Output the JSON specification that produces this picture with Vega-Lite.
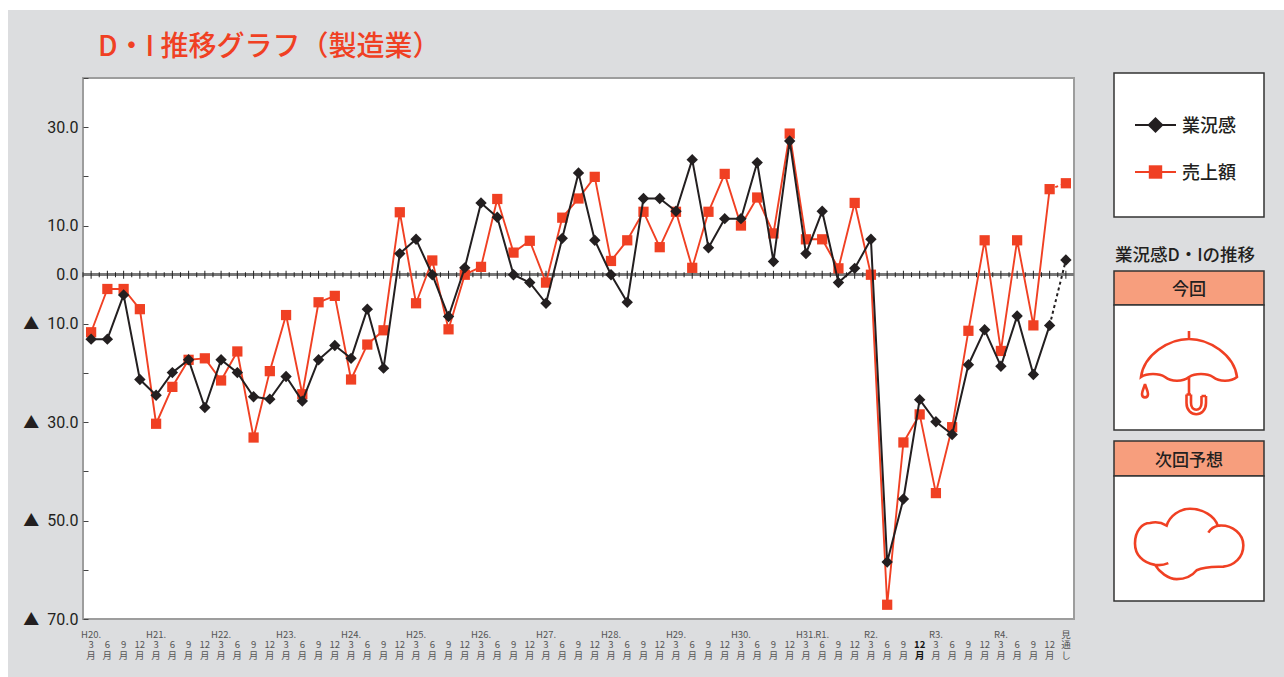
{"$schema":"https://vega.github.io/schema/vega-lite/v6.json","background":"white","padding":{"left":8,"top":10,"right":0,"bottom":0},"spacing":1031,"bounds":"flush","config":{"font":"Noto Sans CJK JP"},
"datasets":{"di":[
{"i":0,"s":"業況感","v":-13.1},{"i":1,"s":"業況感","v":-13.1},{"i":2,"s":"業況感","v":-4.1},{"i":3,"s":"業況感","v":-21.3},{"i":4,"s":"業況感","v":-24.5},{"i":5,"s":"業況感","v":-19.9},{"i":6,"s":"業況感","v":-17.3},{"i":7,"s":"業況感","v":-27.0},{"i":8,"s":"業況感","v":-17.3},{"i":9,"s":"業況感","v":-19.9},{"i":10,"s":"業況感","v":-24.8},{"i":11,"s":"業況感","v":-25.3},{"i":12,"s":"業況感","v":-20.7},{"i":13,"s":"業況感","v":-25.7},{"i":14,"s":"業況感","v":-17.3},{"i":15,"s":"業況感","v":-14.4},{"i":16,"s":"業況感","v":-17.0},{"i":17,"s":"業況感","v":-7.0},{"i":18,"s":"業況感","v":-19.0},{"i":19,"s":"業況感","v":4.3},{"i":20,"s":"業況感","v":7.2},{"i":21,"s":"業況感","v":0},{"i":22,"s":"業況感","v":-8.5},{"i":23,"s":"業況感","v":1.4},{"i":24,"s":"業況感","v":14.6},{"i":25,"s":"業況感","v":11.7},{"i":26,"s":"業況感","v":0},{"i":27,"s":"業況感","v":-1.6},{"i":28,"s":"業況感","v":-5.8},{"i":29,"s":"業況感","v":7.4},{"i":30,"s":"業況感","v":20.7},{"i":31,"s":"業況感","v":7.0},{"i":32,"s":"業況感","v":0},{"i":33,"s":"業況感","v":-5.6},{"i":34,"s":"業況感","v":15.5},{"i":35,"s":"業況感","v":15.5},{"i":36,"s":"業況感","v":12.9},{"i":37,"s":"業況感","v":23.4},{"i":38,"s":"業況感","v":5.5},{"i":39,"s":"業況感","v":11.4},{"i":40,"s":"業況感","v":11.4},{"i":41,"s":"業況感","v":22.8},{"i":42,"s":"業況感","v":2.7},{"i":43,"s":"業況感","v":27.2},{"i":44,"s":"業況感","v":4.3},{"i":45,"s":"業況感","v":12.9},{"i":46,"s":"業況感","v":-1.6},{"i":47,"s":"業況感","v":1.3},{"i":48,"s":"業況感","v":7.2},{"i":49,"s":"業況感","v":-58.4},{"i":50,"s":"業況感","v":-45.6},{"i":51,"s":"業況感","v":-25.4},{"i":52,"s":"業況感","v":-29.9},{"i":53,"s":"業況感","v":-32.5},{"i":54,"s":"業況感","v":-18.3},{"i":55,"s":"業況感","v":-11.2},{"i":56,"s":"業況感","v":-18.6},{"i":57,"s":"業況感","v":-8.4},{"i":58,"s":"業況感","v":-20.3},{"i":59,"s":"業況感","v":-10.3},{"i":60,"s":"業況感","v":3.0},
{"i":0,"s":"売上額","v":-11.7},{"i":1,"s":"売上額","v":-2.9},{"i":2,"s":"売上額","v":-2.9},{"i":3,"s":"売上額","v":-7.0},{"i":4,"s":"売上額","v":-30.3},{"i":5,"s":"売上額","v":-22.8},{"i":6,"s":"売上額","v":-17.3},{"i":7,"s":"売上額","v":-17.0},{"i":8,"s":"売上額","v":-21.5},{"i":9,"s":"売上額","v":-15.6},{"i":10,"s":"売上額","v":-33.1},{"i":11,"s":"売上額","v":-19.6},{"i":12,"s":"売上額","v":-8.2},{"i":13,"s":"売上額","v":-24.3},{"i":14,"s":"売上額","v":-5.6},{"i":15,"s":"売上額","v":-4.3},{"i":16,"s":"売上額","v":-21.3},{"i":17,"s":"売上額","v":-14.2},{"i":18,"s":"売上額","v":-11.3},{"i":19,"s":"売上額","v":12.7},{"i":20,"s":"売上額","v":-5.8},{"i":21,"s":"売上額","v":2.9},{"i":22,"s":"売上額","v":-11.1},{"i":23,"s":"売上額","v":0},{"i":24,"s":"売上額","v":1.6},{"i":25,"s":"売上額","v":15.4},{"i":26,"s":"売上額","v":4.5},{"i":27,"s":"売上額","v":6.9},{"i":28,"s":"売上額","v":-1.6},{"i":29,"s":"売上額","v":11.6},{"i":30,"s":"売上額","v":15.5},{"i":31,"s":"売上額","v":19.9},{"i":32,"s":"売上額","v":2.8},{"i":33,"s":"売上額","v":7.0},{"i":34,"s":"売上額","v":12.8},{"i":35,"s":"売上額","v":5.6},{"i":36,"s":"売上額","v":12.8},{"i":37,"s":"売上額","v":1.4},{"i":38,"s":"売上額","v":12.8},{"i":39,"s":"売上額","v":20.5},{"i":40,"s":"売上額","v":10.0},{"i":41,"s":"売上額","v":15.7},{"i":42,"s":"売上額","v":8.4},{"i":43,"s":"売上額","v":28.7},{"i":44,"s":"売上額","v":7.2},{"i":45,"s":"売上額","v":7.2},{"i":46,"s":"売上額","v":1.3},{"i":47,"s":"売上額","v":14.6},{"i":48,"s":"売上額","v":0},{"i":49,"s":"売上額","v":-67.1},{"i":50,"s":"売上額","v":-34.1},{"i":51,"s":"売上額","v":-28.4},{"i":52,"s":"売上額","v":-44.4},{"i":53,"s":"売上額","v":-31.0},{"i":54,"s":"売上額","v":-11.4},{"i":55,"s":"売上額","v":7.0},{"i":56,"s":"売上額","v":-15.5},{"i":57,"s":"売上額","v":7.0},{"i":58,"s":"売上額","v":-10.3},{"i":59,"s":"売上額","v":17.4},{"i":60,"s":"売上額","v":18.6}
],"key":[{"s":"業況感","p":-1},{"s":"業況感","p":0},{"s":"業況感","p":1},{"s":"売上額","p":-1},{"s":"売上額","p":0},{"s":"売上額","p":1}]},
"hconcat":[
{"vconcat":[
{"width":991,"height":5,"view":{"stroke":null},"data":{"values":[{"panel":"sheet"}]},
"mark":{"type":"rect","fill":"#dcdddf","clip":false},
"encoding":{"x":{"value":-75},"x2":{"value":1201},"y":{"value":-63},"y2":{"value":604}}},
{"width":991,"height":541,"view":{"fill":"white","stroke":"#9d9d9d","strokeWidth":2},"data":{"name":"di"},
"title":{"text":"D・I 推移グラフ\uFF08製造業\uFF09","anchor":"start","frame":"group","dx":15,"offset":16,"color":"#f04023","font":"Noto Sans CJK JP","fontSize":28,"fontWeight":500},
"encoding":{
"x":{"field":"i","type":"ordinal","title":null,"scale":{"type":"band","paddingInner":0,"paddingOuter":0},
"axis":{"domain":false,"ticks":false,"grid":false,"labelAngle":0,"labelAlign":"center","labelBaseline":"top","labelPadding":10,"labelFontSize":9.5,"labelLineHeight":10.5,"labelFont":"Liberation Sans Narrow, Noto Sans CJK JP","labelColor":{"expr":"datum.value==51?'#111':'#555'"},"labelFontWeight":{"expr":"datum.value==51?'bold':'normal'"},"labelOverlap":false,"labelFlush":false,"labelExpr":"datum.value==60?['見','通','し']:[({0:'H20.',4:'H21.',8:'H22.',12:'H23.',16:'H24.',20:'H25.',24:'H26.',28:'H27.',32:'H28.',36:'H29.',40:'H30.',44:'H31.',45:'R1.',48:'R2.',52:'R3.',56:'R4.'})[datum.value]||'',''+[3,6,9,12][datum.value%4],'月']"}},
"y":{"field":"v","type":"quantitative","title":null,"scale":{"domain":[-70,40],"nice":false,"zero":false},
"axis":{"values":[40,30,20,10,0,-10,-20,-30,-40,-50,-60,-70],"domain":false,"grid":false,"tickColor":"#444","tickSize":-5,"tickWidth":1,"labelPadding":10,"labelFont":"Roboto, Noto Sans CJK JP","labelFontSize":16,"labelColor":"#231f20","labelExpr":"indexof([30,10,0],datum.value)>=0?format(datum.value,'.1f'):indexof([-10,-30,-50,-70],datum.value)>=0?'\u25B2\u00A0\u00A0'+format(-datum.value,'.1f'):''"}},
"color":{"field":"s","type":"nominal","legend":null,"scale":{"domain":["業況感","売上額"],"range":["#231f20","#f04023"]}}},
"layer":[
{"mark":{"type":"rule","stroke":"#7a7a7a","strokeWidth":2},"encoding":{"x":{},"color":{"value":"#7a7a7a"},"y":{"datum":0,"type":"quantitative"}}},
{"transform":[{"filter":"datum.s=='業況感'"}],"mark":{"type":"tick","orient":"vertical","size":8,"thickness":1,"color":"#222","opacity":1},"encoding":{"color":{"value":"#222"},"y":{"datum":0,"type":"quantitative"}}},
{"transform":[{"filter":"datum.s=='業況感'"}],"mark":{"type":"tick","orient":"vertical","size":5,"thickness":1,"color":"#222","opacity":1},"encoding":{"x":{"field":"i","type":"ordinal","bandPosition":0},"color":{"value":"#222"},"y":{"datum":0,"type":"quantitative"}}},
{"transform":[{"filter":"datum.s=='売上額'&&datum.i<=59"}],"mark":{"type":"line","strokeWidth":1.9,"strokeJoin":"round"}},
{"transform":[{"filter":"datum.s=='売上額'&&datum.i>=59"}],"mark":{"type":"line","strokeWidth":1.9,"strokeDash":[3,3]}},
{"transform":[{"filter":"datum.s=='売上額'"}],"mark":{"type":"square","size":105,"opacity":1}},
{"transform":[{"filter":"datum.s=='業況感'&&datum.i<=59"}],"mark":{"type":"line","strokeWidth":2,"strokeJoin":"round"}},
{"transform":[{"filter":"datum.s=='業況感'&&datum.i>=59"}],"mark":{"type":"line","strokeWidth":2,"strokeDash":[3,3]}},
{"transform":[{"filter":"datum.s=='業況感'"}],"mark":{"type":"point","shape":"diamond","filled":true,"size":130,"opacity":1}}
]}
],"spacing":0,"bounds":"flush"},
{"vconcat":[
{"width":150,"height":144,"view":{"fill":"white","stroke":"#333","strokeWidth":1.5},"data":{"name":"key"},
"encoding":{
"x":{"field":"p","type":"quantitative","axis":null,"scale":{"domain":[-1,1],"range":[21,62]}},
"y":{"field":"s","type":"nominal","axis":null,"scale":{"type":"point","padding":0,"domain":["業況感","売上額"],"range":[52,99]}},
"color":{"field":"s","type":"nominal","legend":null,"scale":{"domain":["業況感","売上額"],"range":["#231f20","#f04023"]}}},
"layer":[
{"mark":{"type":"line","strokeWidth":2}},
{"transform":[{"filter":"datum.p==0&&datum.s=='業況感'"}],"mark":{"type":"point","shape":"diamond","filled":true,"size":260,"opacity":1}},
{"transform":[{"filter":"datum.p==0&&datum.s=='売上額'"}],"mark":{"type":"square","size":180,"opacity":1}},
{"transform":[{"filter":"datum.p==1"}],"mark":{"type":"text","align":"left","dx":6,"dy":2,"fontSize":18,"fontWeight":500,"color":"#231f20","font":"Noto Sans CJK JP"},"encoding":{"text":{"field":"s"},"color":{"value":"#231f20"}}}
]},
{"width":150,"height":54,"view":{"stroke":null},"data":{"values":[{"panel":"gap"}]},"mark":{"type":"rect","opacity":0},"encoding":{}},
{"width":150,"height":34,"view":{"fill":"#f79e7d","stroke":"#333","strokeWidth":1.5},"data":{"values":[{"label":"今回"}]},
"title":{"text":"業況感D・Iの推移","anchor":"middle","frame":"group","offset":7,"dx":-4,"fontSize":17.5,"fontWeight":500,"color":"#231f20","font":"Noto Sans CJK JP"},
"mark":{"type":"text","fontSize":17,"fontWeight":500,"dy":2,"color":"#231f20"},"encoding":{"text":{"field":"label"}}},
{"width":150,"height":125,"view":{"fill":"white","stroke":"#333","strokeWidth":1.5},"data":{"values":[{"icon":"雨"}]},
"mark":{"type":"point","opacity":1,"filled":false,"fill":null,"stroke":"#f04023","strokeWidth":2.6,"size":10000,"yOffset":4.5,"shape":"M-.96,.10 C-.9,-.35 -.4,-.66 0,-.66 C.4,-.66 .9,-.35 .96,.10 C.84,.2 .6,.2 .48,.10 C.36,.02 .12,.02 0,.10 C-.12,.2 -.36,.2 -.48,.10 C-.6,.02 -.84,.02 -.96,.10 Z M0,-.66 L0,-.82 M0,.10 L0,.44 M-.05,.45 L-.05,.62 C-.05,.92 .34,.92 .34,.62 L.34,.48 M.04,.45 L.04,.62 C.04,.8 .25,.8 .25,.62 L.25,.48 M-.05,.45 L.04,.45 M.25,.48 L.34,.48 M-.88,.24 C-.86,.32 -.82,.38 -.82,.44 C-.82,.53 -.94,.53 -.94,.44 C-.94,.38 -.9,.32 -.88,.24 Z"},"encoding":{}},
{"width":150,"height":11,"view":{"stroke":null},"data":{"values":[{"panel":"gap"}]},"mark":{"type":"rect","opacity":0},"encoding":{}},
{"width":150,"height":35,"view":{"fill":"#f79e7d","stroke":"#333","strokeWidth":1.5},"data":{"values":[{"label":"次回予想"}]},
"mark":{"type":"text","fontSize":17,"fontWeight":500,"dy":2,"color":"#231f20"},"encoding":{"text":{"field":"label"}}},
{"width":150,"height":125,"view":{"fill":"white","stroke":"#333","strokeWidth":1.5},"data":{"values":[{"icon":"曇"}]},
"mark":{"type":"point","opacity":1,"filled":false,"fill":null,"stroke":"#f04023","strokeWidth":2.6,"size":12100,"yOffset":6,"shape":"M-.376,.338 C-.45,.37 -.55,.38 -.618,.37 C-.85,.33 -.982,.18 -.982,-.02 C-.982,-.25 -.85,-.39 -.709,-.39 C-.6,-.42 -.5,-.4 -.406,-.344 C-.35,-.52 -.17,-.649 .018,-.649 C.25,-.649 .47,-.52 .521,-.344 M.352,-.214 C.4,-.3 .46,-.33 .55,-.344 C.8,-.36 .988,-.18 .988,.013 C.988,.24 .82,.38 .624,.403 C.45,.41 .3,.4 .139,.468 C.05,.58 -.1,.63 -.224,.63 C-.38,.63 -.54,.5 -.618,.37"},"encoding":{}}
],"spacing":0,"bounds":"flush"}
]}
